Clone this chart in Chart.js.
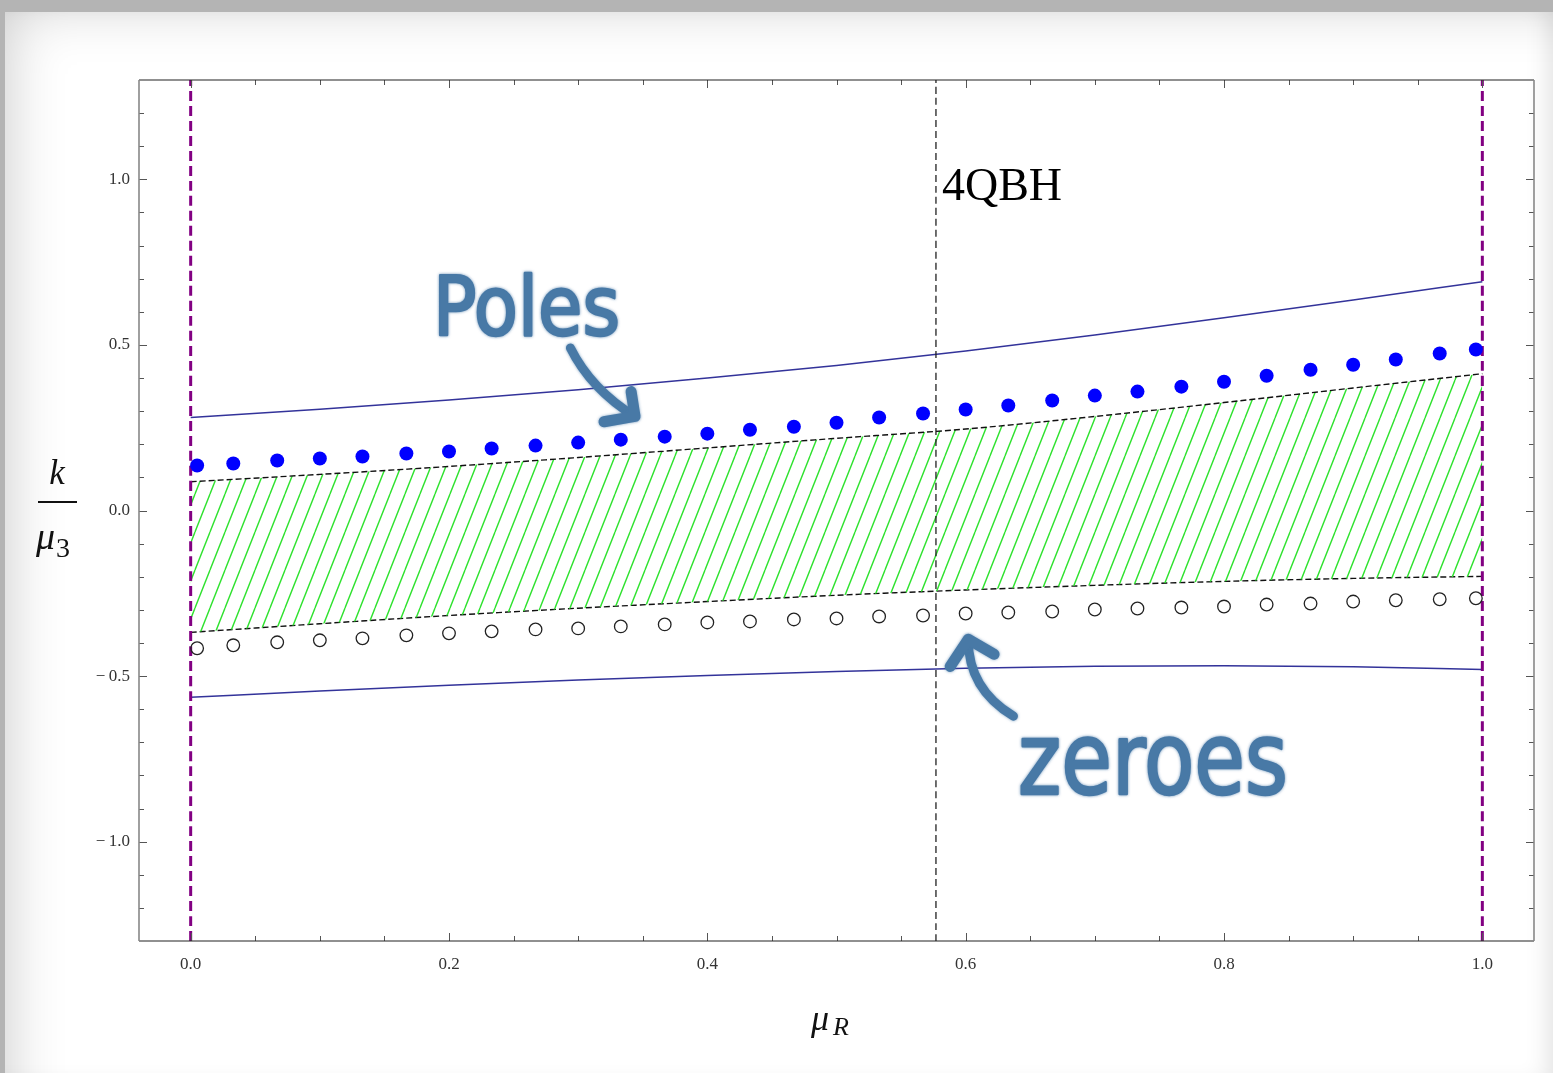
<!DOCTYPE html>
<html>
<head>
<meta charset="utf-8">
<script src="https://cdn.jsdelivr.net/npm/chart.js@4.4.1/dist/chart.umd.min.js"></script>
<style>
  html, body { margin: 0; padding: 0; }
  body { width: 1553px; height: 1073px; background: #b4b4b4; position: relative; overflow: hidden; }
  #sheet {
    position: absolute; left: 5px; top: 12px; right: 0; bottom: 0; background: #fff;
    box-shadow: inset 40px 30px 60px -40px rgba(0,0,0,0.22), inset -18px 0 24px -14px rgba(0,0,0,0.12);
  }
  #wrap { position: absolute; left: 0; top: 0; width: 1553px; height: 1073px; }
</style>
</head>
<body>
<div id="sheet"></div>
<div id="wrap"><canvas id="grafico" width="1553" height="1073"></canvas></div>
<script>
// puntos (polos y ceros), x comun
const sampleX = [0.005, 0.033, 0.067, 0.1, 0.133, 0.167, 0.2, 0.233, 0.267, 0.3, 0.333,
                 0.367, 0.4, 0.433, 0.467, 0.5, 0.533, 0.567, 0.6, 0.633, 0.667, 0.7,
                 0.733, 0.767, 0.8, 0.833, 0.867, 0.9, 0.933, 0.967, 0.995];
const poles = [0.136, 0.142, 0.151, 0.157, 0.163, 0.172, 0.178, 0.187, 0.196, 0.205, 0.214,
               0.223, 0.232, 0.244, 0.253, 0.265, 0.281, 0.293, 0.305, 0.317, 0.332, 0.347,
               0.359, 0.374, 0.389, 0.407, 0.425, 0.440, 0.456, 0.474, 0.486];
const zeroes = [-0.416, -0.407, -0.398, -0.392, -0.386, -0.377, -0.371, -0.365, -0.359, -0.356, -0.350,
                -0.344, -0.338, -0.335, -0.329, -0.326, -0.320, -0.317, -0.311, -0.308, -0.305, -0.299,
                -0.296, -0.293, -0.290, -0.284, -0.281, -0.275, -0.271, -0.268, -0.265];

// curvas
const curveX = [0, 0.1, 0.2, 0.3, 0.4, 0.5, 0.6, 0.7, 0.8, 0.9, 1.0];
const upperCurve = [0.281, 0.306, 0.334, 0.365, 0.400, 0.438, 0.482, 0.530, 0.582, 0.636, 0.691];
const lowerCurve = [-0.564, -0.545, -0.528, -0.512, -0.498, -0.486, -0.476, -0.470, -0.469, -0.472, -0.480];
const bandTop = [0.087, 0.109, 0.133, 0.160, 0.189, 0.218, 0.246, 0.284, 0.326, 0.370, 0.413];
const bandBottom = [-0.368, -0.342, -0.317, -0.295, -0.275, -0.256, -0.240, -0.226, -0.214, -0.205, -0.199];

const xTicks = [0, 0.2, 0.4, 0.6, 0.8, 1.0];
const yTicks = [-1.0, -0.5, 0, 0.5, 1.0];
const xRange = [-0.04, 1.04];
const yRange = [-1.3, 1.3];
const edgeX = [0, 1];
const qbhX = 0.577;

const markColor = 'rgb(72,121,166)';
const serif = '"Liberation Serif", "Times New Roman", serif';

const pts = (xs, ys) => xs.map((x, i) => ({ x: x, y: ys[i] }));
const vline = (x) => [{ x: x, y: yRange[0] }, { x: x, y: yRange[1] }];

// rayado verde para la banda
const hatch = () => {
    const c = document.createElement('canvas');
    c.width = 15; c.height = 38;
    const g = c.getContext('2d');
    g.strokeStyle = '#2ee22e';
    g.lineWidth = 1.4;
    for (const dx of [-15, 0, 15]) {
        g.beginPath(); g.moveTo(dx, 38); g.lineTo(dx + 15, 0); g.stroke();
    }
    return g.createPattern(c, 'repeat');
};

// texto "a mano" escalado a una caja
const scrawl = (ctx, text, left, right, base, size, xs, ys) => {
    ctx.save();
    ctx.font = size + 'px "DejaVu Sans"';
    const w = ctx.measureText(text).width;
    const px0 = xs.getPixelForValue(left), px1 = xs.getPixelForValue(right);
    const sx = (px1 - px0 - 4) / w;
    ctx.translate(px0 + 2, ys.getPixelForValue(base) - 2);
    ctx.scale(sx, 1);
    ctx.fillStyle = markColor; ctx.strokeStyle = markColor;
    ctx.lineWidth = 2.5; ctx.lineJoin = 'round'; ctx.lineCap = 'round';
    ctx.shadowColor = 'rgba(72,121,166,0.7)'; ctx.shadowBlur = 3;
    ctx.textBaseline = 'alphabetic';
    ctx.strokeText(text, 0, 0);
    ctx.fillText(text, 0, 0);
    ctx.restore();
};

const arrow = (ctx, xs, ys, start, ctrl, tip, armA, armB) => {
    const p = (v) => [xs.getPixelForValue(v[0]), ys.getPixelForValue(v[1])];
    const s = p(start), c = p(ctrl), t = p(tip), a = p(armA), b = p(armB);
    ctx.save();
    ctx.strokeStyle = markColor; ctx.lineWidth = 9; ctx.lineCap = 'round'; ctx.lineJoin = 'round';
    ctx.shadowColor = 'rgba(72,121,166,0.7)'; ctx.shadowBlur = 3;
    ctx.beginPath(); ctx.moveTo(s[0], s[1]); ctx.quadraticCurveTo(c[0], c[1], t[0], t[1]); ctx.stroke();
    ctx.lineWidth = 11;
    ctx.beginPath(); ctx.moveTo(a[0], a[1]); ctx.lineTo(t[0], t[1]); ctx.lineTo(b[0], b[1]); ctx.stroke();
    ctx.restore();
};

const framePlugin = {
    id: 'marco',
    afterDraw(chart) {
        const { ctx, chartArea: a, scales: { x, y } } = chart;
        ctx.save();
        // ticks hacia dentro en los cuatro lados
        ctx.strokeStyle = '#555';
        ctx.lineWidth = 1;
        for (let i = 0; i <= 20; i++) {
            const v = i * 0.05;
            const len = (i % 4 === 0) ? 8 : 5;
            const px = Math.round(x.getPixelForValue(v)) + 0.5;
            ctx.beginPath(); ctx.moveTo(px, a.bottom); ctx.lineTo(px, a.bottom - len); ctx.stroke();
            ctx.beginPath(); ctx.moveTo(px, a.top); ctx.lineTo(px, a.top + len); ctx.stroke();
        }
        for (let i = -12; i <= 12; i++) {
            const v = i * 0.1;
            const len = (i % 5 === 0) ? 8 : 5;
            const py = Math.round(y.getPixelForValue(v)) + 0.5;
            ctx.beginPath(); ctx.moveTo(a.left, py); ctx.lineTo(a.left + len, py); ctx.stroke();
            ctx.beginPath(); ctx.moveTo(a.right, py); ctx.lineTo(a.right - len, py); ctx.stroke();
        }
        // marco
        ctx.lineWidth = 1.2;
        ctx.strokeStyle = '#222';
        ctx.beginPath(); ctx.moveTo(a.left, a.top); ctx.lineTo(a.right, a.top); ctx.stroke();
        ctx.beginPath(); ctx.moveTo(a.left, a.bottom); ctx.lineTo(a.right, a.bottom); ctx.stroke();
        ctx.strokeStyle = '#888';
        ctx.lineWidth = 1.6;
        ctx.beginPath(); ctx.moveTo(a.left, a.top); ctx.lineTo(a.left, a.bottom); ctx.stroke();
        ctx.beginPath(); ctx.moveTo(a.right, a.top); ctx.lineTo(a.right, a.bottom); ctx.stroke();

        // titulos de ejes
        ctx.fillStyle = '#111';
        ctx.textAlign = 'center';
        ctx.textBaseline = 'alphabetic';
        ctx.font = 'italic 35px ' + serif;
        ctx.fillText('k', 57, 484);
        ctx.fillRect(38, 501, 39, 2);
        ctx.textAlign = 'left';
        ctx.font = 'italic 38px ' + serif;
        ctx.fillText('\u03bc', 36, 549);
        ctx.font = '28px ' + serif;
        ctx.fillText('3', 56, 557);
        ctx.font = 'italic 36px ' + serif;
        ctx.fillText('\u03bc', 811, 1030);
        ctx.font = 'italic 26px ' + serif;
        ctx.fillText('R', 833, 1035);

        // etiqueta 4QBH
        ctx.font = '46px ' + serif;
        ctx.fillStyle = '#000';
        ctx.fillText('4QBH', x.getPixelForValue(qbhX) + 6, y.getPixelForValue(0.938));

        // anotaciones a mano
        scrawl(ctx, 'Poles', 0.186, 0.334, 0.525, 82, x, y);
        arrow(ctx, x, y, [0.294, 0.491], [0.310, 0.366], [0.344, 0.284], [0.341, 0.359], [0.320, 0.268]);
        scrawl(ctx, 'zeroes', 0.639, 0.851, -0.863, 100, x, y);
        arrow(ctx, x, y, [0.637, -0.621], [0.602, -0.540], [0.602, -0.389], [0.588, -0.471], [0.622, -0.434]);
        ctx.restore();
    }
};

const lineSet = (data, color, width, dash) => ({
    data: data, showLine: true, pointRadius: 0, borderColor: color, borderWidth: width,
    borderDash: dash || [], fill: false, cubicInterpolationMode: 'monotone'
});

const ctx = document.getElementById('grafico').getContext('2d');
new Chart(ctx, {
    type: 'scatter',
    data: {
        datasets: [
            {
                data: pts(sampleX, poles), pointRadius: 7, pointBackgroundColor: '#0000ff',
                pointBorderColor: '#0000ff', pointBorderWidth: 0
            },
            {
                data: pts(sampleX, zeroes), pointRadius: 6.3, pointBackgroundColor: 'rgba(255,255,255,0)',
                pointBorderColor: '#222', pointBorderWidth: 1.3
            },
            lineSet(vline(edgeX[0]), '#820082', 3, [10, 5]),
            lineSet(vline(edgeX[1]), '#820082', 3, [10, 5]),
            lineSet(vline(qbhX), '#222', 1.3, [7, 4]),
            lineSet(pts(curveX, upperCurve), '#33339a', 1.5),
            lineSet(pts(curveX, lowerCurve), '#33339a', 1.5),
            Object.assign(lineSet(pts(curveX, bandTop), '#111', 1.4, [6, 3]),
                { fill: '+1', backgroundColor: hatch() }),
            lineSet(pts(curveX, bandBottom), '#111', 1.4, [6, 3])
        ]
    },
    options: {
        responsive: false,
        devicePixelRatio: 1,
        animation: false,
        layout: { padding: { left: 0, top: 80, right: 19, bottom: 0 } },
        plugins: { legend: { display: false }, tooltip: { enabled: false } },
        events: [],
        scales: {
            x: {
                type: 'linear', min: xRange[0], max: xRange[1],
                grid: { display: false, drawTicks: false },
                border: { display: false },
                afterBuildTicks: (s) => { s.ticks = xTicks.map(v => ({ value: v })); },
                afterFit: (s) => { s.height = 132; },
                ticks: {
                    padding: 13, color: '#333', font: { family: serif, size: 17 },
                    maxRotation: 0, autoSkip: false,
                    callback: (v) => v.toFixed(1)
                }
            },
            y: {
                type: 'linear', min: yRange[0], max: yRange[1],
                grid: { display: false, drawTicks: false },
                border: { display: false },
                afterBuildTicks: (s) => { s.ticks = yTicks.map(v => ({ value: v })); },
                afterFit: (s) => { s.width = 139; },
                ticks: {
                    padding: 9, color: '#333', font: { family: serif, size: 17 },
                    autoSkip: false,
                    callback: (v) => (v < 0 ? '\u2212\u2009' : '') + Math.abs(v).toFixed(1)
                }
            }
        }
    },
    plugins: [framePlugin]
});
</script>
</body>
</html>
